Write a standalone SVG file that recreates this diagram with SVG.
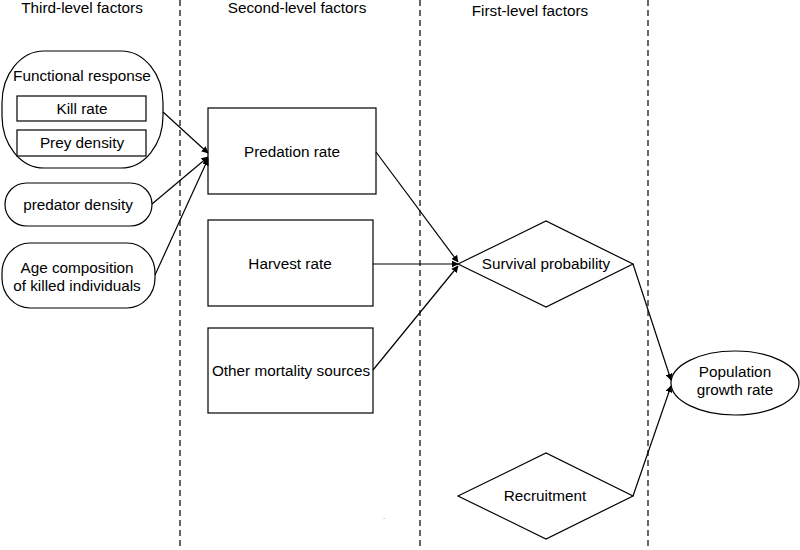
<svg xmlns="http://www.w3.org/2000/svg" width="800" height="550" viewBox="0 0 800 550">
<style>
text{font-family:"Liberation Sans",Arial,sans-serif;font-size:15.3px;fill:#000;text-anchor:middle}
.s{fill:#fff;stroke:#000;stroke-width:1.2}
.d{stroke:#000;stroke-width:1.2;stroke-dasharray:6,4;fill:none}
.c{stroke:#000;stroke-width:1.2;fill:none;marker-end:url(#a)}
</style>
<defs>
<marker id="a" viewBox="0 0 10 10" refX="9" refY="5" markerWidth="7" markerHeight="7" orient="auto" markerUnits="userSpaceOnUse">
<path d="M0,0 L10,5 L0,10 Z" fill="#000"/>
</marker>
</defs>
<rect width="800" height="550" fill="#fff"/>
<g id="dividers">
<line class="d" x1="180" y1="0" x2="180" y2="550"/>
<line class="d" x1="420" y1="0" x2="420" y2="550"/>
<line class="d" x1="648" y1="0" x2="648" y2="550"/>
</g>
<g id="headers">
<text x="82" y="13">Third-level factors</text>
<text x="297" y="13">Second-level factors</text>
<text x="530" y="16">First-level factors</text>
</g>
<g id="functional-response">
<rect class="s" x="2" y="51" width="161" height="117" rx="42" ry="52"/>
<text x="82" y="81">Functional response</text>
<g id="kill-rate"><rect class="s" x="17" y="96" width="129" height="25"/><text x="82" y="114">Kill rate</text></g>
<g id="prey-density"><rect class="s" x="17" y="130" width="129" height="26"/><text x="82" y="148">Prey density</text></g>
</g>
<g id="predator-density">
<rect class="s" x="5" y="183" width="147" height="43" rx="21.5" ry="21.5"/>
<text x="78" y="210">predator density</text>
</g>
<g id="age-composition">
<rect class="s" x="2" y="243" width="153" height="65" rx="28" ry="30"/>
<text x="77" y="273">Age composition</text>
<text x="77" y="291">of killed individuals</text>
</g>
<g id="predation-rate">
<rect class="s" x="208" y="108" width="168" height="86"/>
<text x="292" y="157">Predation rate</text>
</g>
<g id="harvest-rate">
<rect class="s" x="208" y="220" width="165" height="86"/>
<text x="290" y="269">Harvest rate</text>
</g>
<g id="other-mortality">
<rect class="s" x="208" y="328" width="165" height="85"/>
<text x="291" y="376">Other mortality sources</text>
</g>
<g id="survival-probability">
<polygon class="s" points="458,264 546,221 633,264 546,307"/>
<text x="546" y="269">Survival probability</text>
</g>
<g id="recruitment">
<polygon class="s" points="458,496 546,453 633,496 546,539"/>
<text x="545" y="501">Recruitment</text>
</g>
<g id="population-growth-rate">
<ellipse class="s" cx="735" cy="383" rx="64" ry="32"/>
<text x="735" y="377">Population</text>
<text x="735" y="395">growth rate</text>
</g>
<g id="connectors">
<line class="c" x1="163" y1="112" x2="208" y2="153"/>
<line class="c" x1="152" y1="204" x2="208" y2="157"/>
<line class="c" x1="155" y1="275" x2="208" y2="159"/>
<line class="c" x1="376" y1="152" x2="458" y2="262"/>
<line class="c" x1="373" y1="264" x2="458" y2="264"/>
<line class="c" x1="373" y1="370" x2="458" y2="266"/>
<line class="c" x1="633" y1="264" x2="671" y2="380"/>
<line class="c" x1="633" y1="496" x2="671" y2="386"/>
</g>
<text x="384" y="519" style="font-size:6px">.</text>
</svg>
